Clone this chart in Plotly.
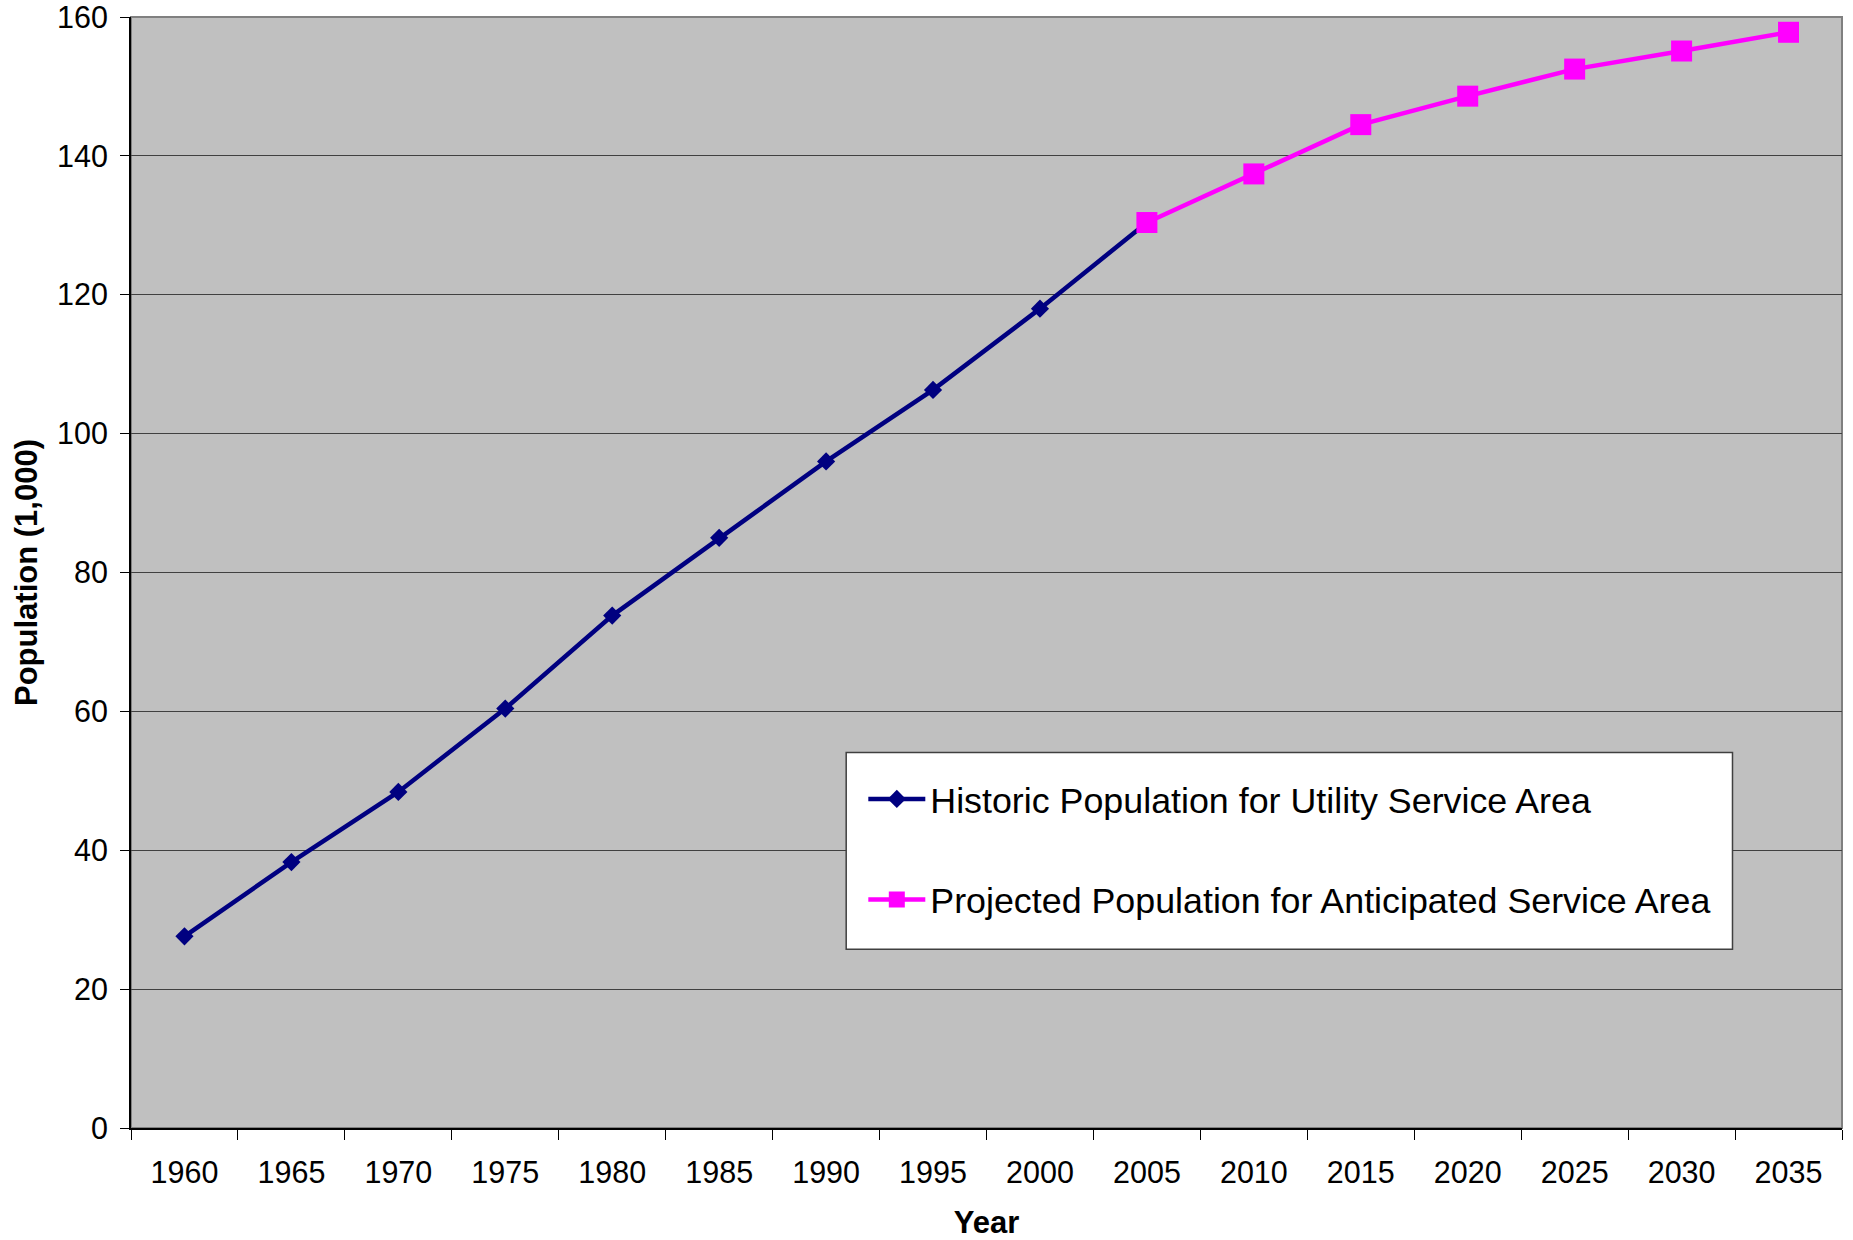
import plotly.graph_objects as go

years = ["1960", "1965", "1970", "1975", "1980", "1985", "1990", "1995",
         "2000", "2005", "2010", "2015", "2020", "2025", "2030", "2035"]

hist_years = years[:10]
hist_pop = [27.6, 38.3, 48.4, 60.4, 73.8, 85.0, 96.0, 106.3, 118.0, 130.4]

proj_years = years[9:]
proj_pop = [130.4, 137.4, 144.5, 148.6, 152.5, 155.1, 157.8]

FONT = "Liberation Sans, Arial, sans-serif"

fig = go.Figure()
fig.add_trace(go.Scatter(
    x=hist_years, y=hist_pop, name="Historic Population for Utility Service Area",
    mode="lines+markers", legendgroup="h",
    line=dict(color="#000080", width=4.5),
    marker=dict(symbol="diamond", size=14, color="#000080"),
))
fig.add_trace(go.Scatter(
    x=proj_years, y=proj_pop, name="Projected Population for Anticipated Service Area",
    mode="lines+markers", legendgroup="p",
    line=dict(color="#FF00FF", width=4.5),
    marker=dict(symbol="square", size=21, color="#FF00FF"),
))

fig.update_xaxes(
    type="category", categoryorder="array", categoryarray=years,
    range=[-0.5, 15.5], tickson="boundaries", ticks="outside", ticklen=10,
    tickcolor="#000000", showline=True, linecolor="#000000", linewidth=2,
    showgrid=False, automargin=False, ticklabelstandoff=16, ticklabeloverflow="allow",
    tickfont=dict(size=30.5, color="#000000"),
    title=dict(text="<b>Year</b>", font=dict(size=31, color="#000000"), standoff=26),
)
fig.update_yaxes(
    range=[0, 160], dtick=20, ticks="outside", ticklen=9, tickcolor="#000000",
    showline=True, linecolor="#000000", linewidth=2, automargin=False,
    showgrid=True, gridcolor="#404040", gridwidth=1, zeroline=False,
    ticklabelstandoff=6, ticklabeloverflow="allow",
    tickfont=dict(size=30.5, color="#000000"),
    title=dict(text="<b>Population (1,000)</b>", font=dict(size=31, color="#000000"), standoff=10),
)

# plot-area border (grey on top/right)
fig.add_shape(type="rect", xref="paper", yref="paper", x0=0, y0=0, x1=1, y1=1,
              line=dict(color="#808080", width=2), layer="below")
# legend box
fig.add_shape(type="rect", xref="paper", yref="paper", x0=0.418, y0=0.161, x1=0.936, y1=0.338,
              fillcolor="#FFFFFF", line=dict(color="#404040", width=1.5), layer="above")

fig.update_layout(
    width=1853, height=1240,
    margin=dict(l=131, r=11, t=17, b=112),
    paper_bgcolor="#FFFFFF", plot_bgcolor="#C0C0C0",
    font=dict(family=FONT, size=30, color="#000000"),
    showlegend=True,
    legend=dict(
        x=0.428, y=0.323, xanchor="left", yanchor="top",
        bgcolor="rgba(0,0,0,0)", borderwidth=0,
        font=dict(size=35.8, color="#000000"),
        traceorder="grouped", tracegroupgap=51, itemwidth=57,
    ),
)

fig.write_html("out.html", config={"displayModeBar": False},
               post_script="document.body.style.margin='0';")
